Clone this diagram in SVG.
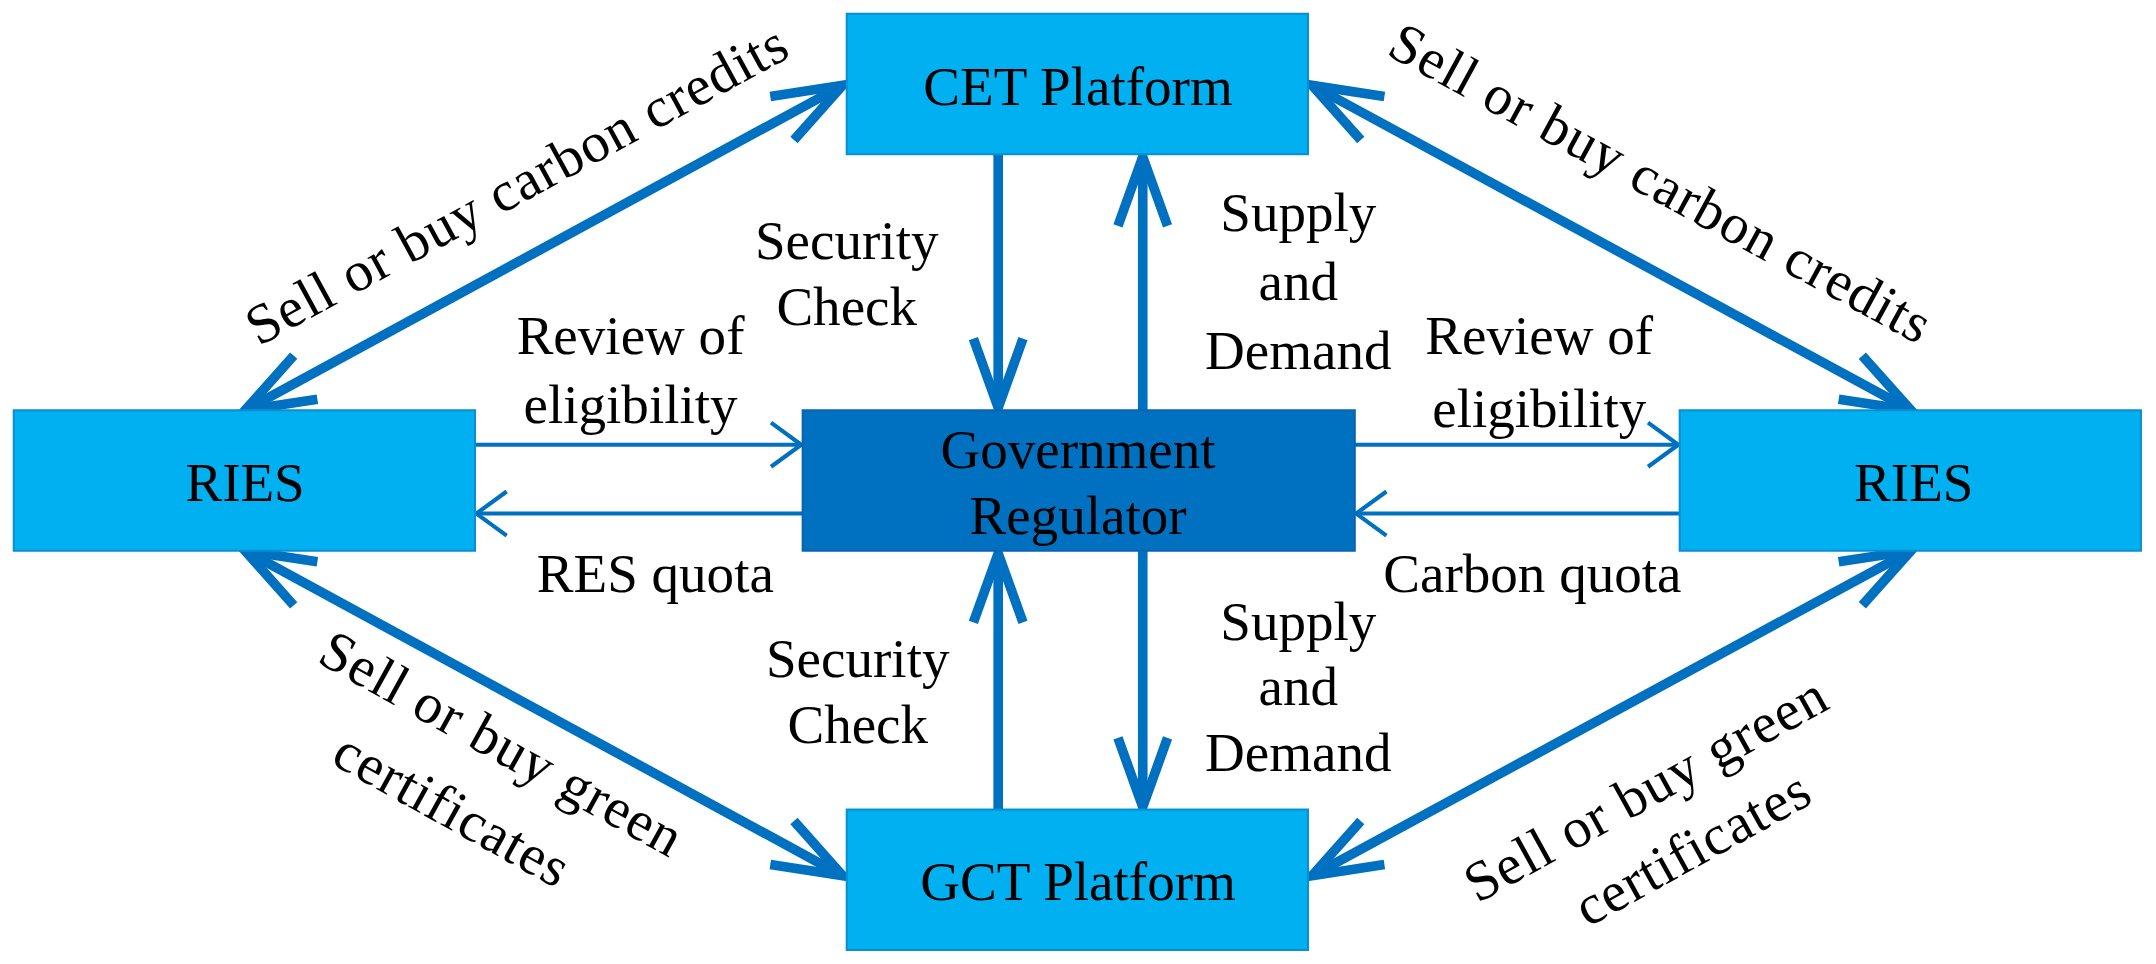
<svg xmlns="http://www.w3.org/2000/svg" width="2156" height="964" viewBox="0 0 2156 964">
<style>
.box{fill:#00B0F0;stroke:#0A8FD0;stroke-width:1.5}
.gov{fill:#0070C0;stroke:#0A64B0;stroke-width:1.5}
text{font-family:"Liberation Serif","Times New Roman",serif;font-size:40px;fill:#000;text-anchor:middle}
.diag{font-size:41px;letter-spacing:0.8px}
.thick{stroke:#0070C0;stroke-width:7;fill:none}
.thin{stroke:#0070C0;stroke-width:3;fill:none}
</style>
<defs>
<marker id="ah" markerUnits="userSpaceOnUse" viewBox="-60 -30 70 60" refX="0" refY="0" markerWidth="70" markerHeight="60" orient="auto-start-reverse">
<path d="M-50,-18 L0,0 L-50,18" fill="none" stroke="#0070C0" stroke-width="7"/>
</marker>
<marker id="ahs" markerUnits="userSpaceOnUse" viewBox="-50 -25 60 50" refX="0" refY="0" markerWidth="60" markerHeight="50" orient="auto-start-reverse">
<path d="M-22,-16 L0,0 L-22,16" fill="none" stroke="#0070C0" stroke-width="3"/>
</marker>
</defs>
<g transform="scale(1.3768)">
<g id="connectors">
<line class="thick" x1="178" y1="298" x2="612" y2="62" marker-start="url(#ah)" marker-end="url(#ah)"/>
<line class="thick" x1="953" y1="62" x2="1388" y2="298" marker-start="url(#ah)" marker-end="url(#ah)"/>
<line class="thick" x1="178" y1="400" x2="612" y2="636" marker-start="url(#ah)" marker-end="url(#ah)"/>
<line class="thick" x1="953" y1="636" x2="1388" y2="400" marker-start="url(#ah)" marker-end="url(#ah)"/>
<line class="thick" x1="725" y1="112" x2="725" y2="296" marker-end="url(#ah)"/>
<line class="thick" x1="830" y1="298" x2="830" y2="114" marker-end="url(#ah)"/>
<line class="thick" x1="725" y1="588" x2="725" y2="402" marker-end="url(#ah)"/>
<line class="thick" x1="830" y1="400" x2="830" y2="586" marker-end="url(#ah)"/>
<line class="thin" x1="345" y1="323" x2="582" y2="323" marker-end="url(#ahs)"/>
<line class="thin" x1="583" y1="373" x2="346" y2="373" marker-end="url(#ahs)"/>
<line class="thin" x1="984" y1="323" x2="1219" y2="323" marker-end="url(#ahs)"/>
<line class="thin" x1="1220" y1="373" x2="985" y2="373" marker-end="url(#ahs)"/>
</g>
<g id="cet"><rect class="box" x="615" y="10" width="335" height="102"/><text x="783" y="76">CET Platform</text></g>
<g id="gct"><rect class="box" x="615" y="588" width="335" height="102"/><text x="783" y="654">GCT Platform</text></g>
<g id="ries-left"><rect class="box" x="10" y="298" width="335" height="102"/><text x="178" y="364">RIES</text></g>
<g id="ries-right"><rect class="box" x="1220" y="298" width="335" height="102"/><text x="1390" y="364">RIES</text></g>
<g id="gov"><rect class="gov" x="583" y="298" width="401" height="102"/><text x="783" y="340">Government</text><text x="783" y="388">Regulator</text></g>
<g id="labels">
<text class="diag" transform="translate(382,146) rotate(-28.6)">Sell or buy carbon credits</text>
<text class="diag" transform="translate(1200,145) rotate(28.6)">Sell or buy carbon credits</text>
<text class="diag" transform="translate(358,552) rotate(29)">Sell or buy green</text>
<text class="diag" transform="translate(322,600) rotate(29)">certificates</text>
<text class="diag" transform="translate(1202,585) rotate(-29)">Sell or buy green</text>
<text class="diag" transform="translate(1236,628) rotate(-29)">certificates</text>
<text x="615" y="188">Security</text><text x="615" y="236">Check</text>
<text x="943" y="168">Supply</text><text x="943" y="218">and</text><text x="943" y="268">Demand</text>
<text x="458" y="257">Review of</text><text x="458" y="307">eligibility</text>
<text x="1118" y="257">Review of</text><text x="1118" y="310">eligibility</text>
<text x="476" y="430">RES quota</text>
<text x="1113" y="430">Carbon quota</text>
<text x="623" y="492">Security</text><text x="623" y="540">Check</text>
<text x="943" y="465">Supply</text><text x="943" y="512">and</text><text x="943" y="560">Demand</text>
</g>
</g>
</svg>
